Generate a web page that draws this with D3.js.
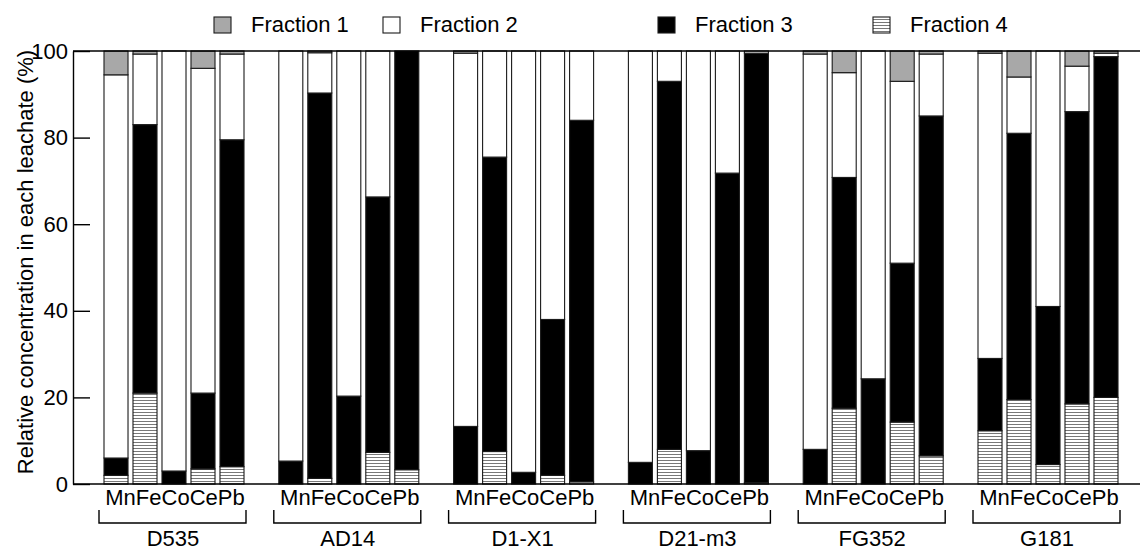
<!DOCTYPE html>
<html>
<head>
<meta charset="utf-8">
<script src="https://cdn.jsdelivr.net/npm/d3@7"></script>
<style>
html,body{margin:0;padding:0;background:#fff;}
svg{display:block;font-family:"Liberation Sans",Arial,Helvetica,sans-serif;}
</style>
</head>
<body>
<svg id="chart" width="1140" height="551"></svg>
<script>
// ---- data ----
const groups = ["D535", "AD14", "D1-X1", "D21-m3", "FG352", "G181"];
const elements = ["Mn", "Fe", "Co", "Ce", "Pb"];
const fractionNames = ["Fraction 1", "Fraction 2", "Fraction 3", "Fraction 4"];
const yTicks = [0, 20, 40, 60, 80, 100];
// values per group, in element order Mn, Fe, Co, Ce, Pb (%)
const fraction4 = [
  [2, 21, 0, 3.5, 4],
  [0, 1.3, 0, 7.3, 3.3],
  [0, 7.5, 0, 2, 0.5],
  [0, 8, 0, 0, 0.3],
  [0, 17.5, 0, 14.3, 6.5],
  [12.3, 19.5, 4.5, 18.5, 20]
];
const fraction3 = [
  [4, 62, 3, 17.5, 75.5],
  [5.3, 89, 20.3, 59, 96.7],
  [13.3, 68, 2.7, 36, 83.5],
  [5, 85, 7.7, 71.8, 99.2],
  [8, 53.3, 24.3, 36.7, 78.5],
  [16.7, 61.5, 36.5, 67.5, 78.7]
];
const fraction2 = [
  [88.5, 16.3, 97, 75, 19.8],
  [94.7, 9.3, 79.7, 33.7, 0],
  [86.2, 24.5, 97.3, 62, 16],
  [95, 7, 92.3, 28.2, 0.5],
  [91.3, 24.2, 75.7, 42, 14.3],
  [70.5, 13, 59, 10.5, 0.8]
];
const fraction1 = [
  [5.5, 0.7, 0, 4, 0.7],
  [0, 0.4, 0, 0, 0],
  [0.5, 0, 0, 0, 0],
  [0, 0, 0, 0, 0],
  [0.7, 5, 0, 7, 0.7],
  [0.5, 6, 0, 3.5, 0.5]
];

// ---- table for the stack ----
const rows = [];
groups.forEach((g, gi) => elements.forEach((e, ei) => {
  rows.push({group: g, element: e,
    f4: fraction4[gi][ei], f3: fraction3[gi][ei],
    f2: fraction2[gi][ei], f1: fraction1[gi][ei]});
}));
const keys = ["f4", "f3", "f2", "f1"];
const stacked = d3.stack().keys(keys)(rows);

const svg = d3.select("#chart");
const plotLeft = 73, plotRight = 1140, plotTop = 51, plotBottom = 484;
const FS = 22;

const defs = svg.append("defs");
const pat = defs.append("pattern").attr("id", "hatch")
  .attr("patternUnits", "userSpaceOnUse").attr("width", 6).attr("height", 3);
pat.append("rect").attr("width", 6).attr("height", 3).attr("fill", "#fff");
pat.append("line").attr("x1", 0).attr("x2", 6).attr("y1", 1.5).attr("y2", 1.5)
  .attr("stroke", "#555").attr("stroke-width", 0.8);

const fills = {f1: "#a8a8a8", f2: "#ffffff", f3: "#000000", f4: "url(#hatch)"};

const y = d3.scaleLinear().domain([0, 100]).range([plotBottom, plotTop]);
const xg = d3.scaleBand().domain(groups).range([86.6, 86.6 + 6 * 174.8]).padding(0);
const xe = d3.scaleBand().domain(elements).range([17.4, 157.4]).paddingInner(0.172).paddingOuter(0);

// bars
const layers = svg.append("g").selectAll("g").data(stacked).join("g")
  .attr("fill", d => fills[d.key]);
layers.selectAll("rect").data(d => d.filter(s => s[1] - s[0] > 0)).join("rect")
  .attr("x", d => xg(d.data.group) + xe(d.data.element))
  .attr("width", xe.bandwidth())
  .attr("y", d => y(d[1]))
  .attr("height", d => y(d[0]) - y(d[1]))
  .attr("stroke", "#1a1a1a")
  .attr("stroke-width", 1.1);

// top frame line
svg.append("line").attr("x1", plotLeft).attr("x2", plotRight).attr("y1", plotTop).attr("y2", plotTop)
  .attr("stroke", "#000").attr("stroke-width", 1.4);

// y axis with inward ticks
const yAxis = d3.axisLeft(y).tickValues(yTicks).tickSize(-17).tickPadding(5).tickSizeOuter(0);
const ya = svg.append("g").attr("transform", `translate(${plotLeft},0)`).call(yAxis);
ya.attr("font-size", FS).attr("font-family", "Liberation Sans, Arial, sans-serif");
ya.select(".domain").attr("stroke", "#000").attr("stroke-width", 1.4);
ya.selectAll(".tick line").attr("stroke", "#000").attr("stroke-width", 1.4);
ya.selectAll(".tick text").attr("fill", "#000");

// x axis (bottom line)
svg.append("line").attr("x1", plotLeft).attr("x2", plotRight).attr("y1", plotBottom).attr("y2", plotBottom)
  .attr("stroke", "#000").attr("stroke-width", 1.4);

// element labels, brackets, group labels
const gLab = svg.append("g").attr("font-size", FS);
groups.forEach(g => {
  const gx0 = xg(g) + xe(elements[0]);
  const gx1 = xg(g) + xe(elements[elements.length - 1]) + xe.bandwidth();
  const cx = (gx0 + gx1) / 2;
  gLab.append("text")
    .attr("x", cx + 1).attr("y", 505)
    .attr("text-anchor", "middle")
    .selectAll("tspan").data(elements).join("tspan").text(e => e);
  gLab.append("path")
    .attr("d", `M${gx0 - 5},510V523H${gx1 + 2}V510`)
    .attr("fill", "none").attr("stroke", "#000").attr("stroke-width", 1.4);
  gLab.append("text")
    .attr("x", cx - 1).attr("y", 546)
    .attr("text-anchor", "middle")
    .text(g);
});

// y axis title
svg.append("text")
  .attr("transform", `translate(33,262) rotate(-90)`)
  .attr("text-anchor", "middle").attr("font-size", FS)
  .text("Relative concentration in each leachate (%)");

// legend
const legendX = [214, 383, 658, 873];
const legendFill = [fills.f1, fills.f2, fills.f3, fills.f4];
const lg = svg.append("g").attr("font-size", FS);
fractionNames.forEach((n, i) => {
  lg.append("rect").attr("x", legendX[i]).attr("y", 17).attr("width", 17).attr("height", 16)
    .attr("fill", legendFill[i]).attr("stroke", "#1a1a1a").attr("stroke-width", 1.1);
  lg.append("text").attr("x", legendX[i] + 37).attr("y", 32).text(n);
});
</script>
</body>
</html>
